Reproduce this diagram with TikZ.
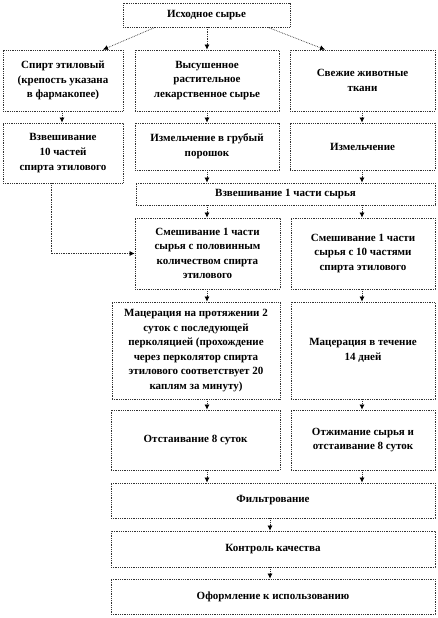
\documentclass[tikz,border=0pt]{standalone}
\usepackage{fontspec}
\setmainfont{Liberation Serif}
\usepackage{tikz}
\usetikzlibrary{arrows.meta}
\definecolor{ramka}{RGB}{50, 50, 50}

\begin{document}
\begin{tikzpicture}[x=1pt, y=-1pt,
    blok/.style={draw=ramka, densely dotted, line width=0.8pt, inner sep=0pt,
      align=center, font=\fontsize{11}{14.6}\selectfont\bfseries},
    strelka/.style={draw=ramka, densely dotted, line width=0.7pt,
      -{Latex[length=5pt,width=5pt,black]}}]
    \useasboundingbox (0,0) rectangle (438,618);
    \node[blok, minimum width=167pt, minimum height=24pt] (ish) at (206.5,15) {Исходное сырье};
    \node[blok, minimum width=120pt, minimum height=61pt] (spirt) at (63,80.5) {Спирт этиловый\\(крепость указана\\в фармакопее)};
    \node[blok, minimum width=144pt, minimum height=61pt] (rast) at (207,80.5) {Высушенное\\растительное\\лекарственное сырье};
    \node[blok, minimum width=145pt, minimum height=61pt] (tkani) at (362.5,80.5) {Свежие животные\\ткани};
    \node[blok, minimum width=120pt, minimum height=60pt] (vzv10) at (63,153) {Взвешивание\\10 частей\\спирта этилового};
    \node[blok, minimum width=144pt, minimum height=47pt] (izm1) at (207,146.5) {Измельчение в грубый\\порошок};
    \node[blok, minimum width=145pt, minimum height=47pt] (izm2) at (362.5,146.5) {Измельчение};
    \node[blok, minimum width=299pt, minimum height=22pt] (vzv1) at (285.5,194) {Взвешивание 1 части сырья};
    \node[blok, minimum width=145pt, minimum height=71pt] (smes1) at (207.5,253.5) {Смешивание 1 части\\сырья с половинным\\количеством спирта\\этилового};
    \node[blok, minimum width=144pt, minimum height=71pt] (smes2) at (363,253.5) {Смешивание 1 части\\сырья с 10 частями\\спирта этилового};
    \node[blok, minimum width=168pt, minimum height=97pt] (mac1) at (196,350.5) {Мацерация на протяжении 2\\суток с последующей\\перколяцией (прохождение\\через перколятор спирта\\этилового соответствует 20\\каплям за минуту)};
    \node[blok, minimum width=144pt, minimum height=97pt] (mac2) at (363,350.5) {Мацерация в течение\\14 дней};
    \node[blok, minimum width=169pt, minimum height=60pt] (ots1) at (195.5,440) {Отстаивание 8 суток};
    \node[blok, minimum width=144pt, minimum height=60pt] (ots2) at (363,440) {Отжимание сырья и\\отстаивание 8 суток};
    \node[blok, minimum width=324pt, minimum height=35pt] (filt) at (273,500.5) {Фильтрование};
    \node[blok, minimum width=324pt, minimum height=36pt] (kontr) at (273,549) {Контроль качества};
    \node[blok, minimum width=324pt, minimum height=35pt] (oform) at (273,596.5) {Оформление к использованию};

    \coordinate (k1) at (62,0);
    \coordinate (k2) at (207,0);
    \coordinate (k3) at (362,0);
    \coordinate (k4) at (270,0);
    \coordinate (kl) at (51,0);

    \draw[strelka] (ish.south -| 155,0) -- (spirt.north -| 103,0);
    \draw[strelka] (ish.south -| k2) -- (rast.north -| k2);
    \draw[strelka] (ish.south -| 268,0) -- (tkani.north -| 325,0);
    \draw[strelka] (spirt.south -| k1) -- (vzv10.north -| k1);
    \draw[strelka] (rast.south -| k2) -- (izm1.north -| k2);
    \draw[strelka] (tkani.south -| k3) -- (izm2.north -| k3);
    \draw[strelka] (izm1.south -| k2) -- (vzv1.north -| k2);
    \draw[strelka] (izm2.south -| k3) -- (vzv1.north -| k3);
    \draw[strelka] (vzv1.south -| k2) -- (smes1.north -| k2);
    \draw[strelka] (vzv1.south -| k3) -- (smes2.north -| k3);
    \draw[strelka] (vzv10.south -| kl) |- (smes1.west);
    \draw[strelka] (smes1.south -| k2) -- (mac1.north -| k2);
    \draw[strelka] (smes2.south -| k3) -- (mac2.north -| k3);
    \draw[strelka] (mac1.south -| k2) -- (ots1.north -| k2);
    \draw[strelka] (mac2.south -| k3) -- (ots2.north -| k3);
    \draw[strelka] (ots1.south -| k2) -- (filt.north -| k2);
    \draw[strelka] (ots2.south -| k3) -- (filt.north -| k3);
    \draw[strelka] (filt.south -| k4) -- (kontr.north -| k4);
    \draw[strelka] (kontr.south -| k4) -- (oform.north -| k4);
\end{tikzpicture}
\end{document}
